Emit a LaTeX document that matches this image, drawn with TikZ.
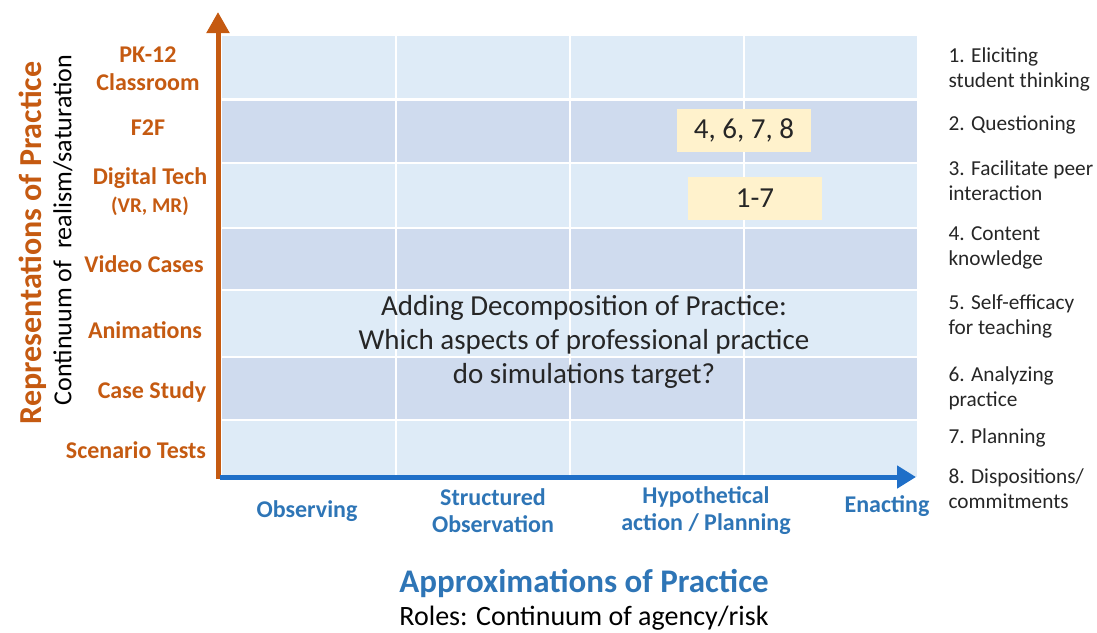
\documentclass[tikz,border=0pt]{standalone}
\usepackage{fontspec}
\setmainfont{Carlito}
\usepackage{xcolor}
\usetikzlibrary{arrows.meta, positioning}
\definecolor{rowlight}{HTML}{DEEBF7}
\definecolor{rowdark}{HTML}{CFDBEE}
\definecolor{realism}{HTML}{C55A11}
\definecolor{agency}{HTML}{2E75B6}
\definecolor{axisblue}{HTML}{1F6FC8}
\definecolor{target}{HTML}{FFF2CC}
\definecolor{ink}{HTML}{262626}

\tikzset{
  replabel/.style={font=\fontsize{24}{28}\selectfont\bfseries, text=realism, align=center},
  applabel/.style={font=\fontsize{24}{27}\selectfont\bfseries, text=agency, align=center},
  aspect/.style={font=\fontsize{21.3}{25}\selectfont, text=ink, anchor=west, align=left},
  targetbox/.style={fill=target, font=\fontsize{29}{32}\selectfont, text=ink, minimum width=134, minimum height=43},
}

\begin{document}
\begin{tikzpicture}[x=1pt, y=-1pt]
  \useasboundingbox (0,0) rectangle (1097,632);

  % Striped rows of the grid
  \foreach \top/\bot/\shade in {36/99/rowlight, 99/163/rowdark, 163/228/rowlight,
      228/290/rowdark, 290/357/rowlight, 357/420/rowdark, 420/477/rowlight}
    \fill[\shade] (222,\top) rectangle (917,\bot);
  \foreach \y in {163,228,290,357,420}
    \draw[white, line width=1.2] (222,\y) -- (917,\y);
  \draw[white, line width=3] (222,99) -- (917,99);
  \foreach \x in {396,570,744}
    \draw[white, line width=1.2] (\x,36) -- (\x,477);

  % Axes
  \draw[realism, line width=5, -{Triangle[width=22pt, length=21pt]}] (218,479) -- (218,12);
  \draw[axisblue, line width=5, -{Triangle[width=22pt, length=19pt]}] (220,477) -- (916,477);

  % Targets
  \node[targetbox] (f2f) at (744,130) {4, 6, 7, 8};
  \node[targetbox] (digital) at (755,198) {1-7};

  \node[font=\fontsize{29}{34}\selectfont, text=ink, align=center] (question) at (584,342)
    {Adding Decomposition of Practice:\\Which aspects of professional practice\\do simulations target?};

  % Representations (rows)
  \node[replabel] (pk) at (148,69) {PK-12\\Classroom};
  \node[replabel] (f2flabel) at (148,128) {F2F};
  \node[replabel] (tech) at (150,192) {Digital Tech\\{\fontsize{21}{24}\selectfont(VR, MR)}};
  \node[replabel] (video) at (144,264) {Video Cases};
  \node[replabel] (anim) at (145,330) {Animations};
  \node[replabel] (case) at (152,392) {Case Study};
  \node[replabel] (scen) at (136,450) {Scenario Tests};

  \node[rotate=90, font=\fontsize{32}{36}\selectfont\bfseries, text=realism] (reptitle) at (33,243) {Representations of Practice};
  \node[rotate=90, font=\fontsize{26}{30}\selectfont, text=black] (realtitle) at (63,230) {Continuum of\ \ realism/saturation};

  % Approximations (columns)
  \node[applabel] (observe) at (307,511) {Observing};
  \node[applabel] (struct) at (493,511) {Structured\\Observation};
  \node[applabel] (hypo) at (706,511) {Hypothetical\\action / Planning};
  \node[applabel] (enact) at (887,506) {Enacting};

  \node[font=\fontsize{33}{36}\selectfont\bfseries, text=agency] (apptitle) at (584,583) {Approximations of Practice};
  \node[font=\fontsize{28}{32}\selectfont, text=black] (roles) at (584,618) {Roles: Continuum of agency/risk};

  % Aspects of practice
  \node[aspect] (a1) at (945,69) {1. Eliciting\\student thinking};
  \node[aspect] (a2) at (945,125) {2. Questioning};
  \node[aspect] (a3) at (945,181) {3. Facilitate peer\\interaction};
  \node[aspect] (a4) at (945,248) {4. Content\\knowledge};
  \node[aspect] (a5) at (945,316) {5. Self-efficacy\\for teaching};
  \node[aspect] (a6) at (945,388) {6. Analyzing\\practice};
  \node[aspect] (a7) at (945,438) {7. Planning};
  \node[aspect] (a8) at (945,489) {8. Dispositions/\\commitments};
\end{tikzpicture}
\end{document}
